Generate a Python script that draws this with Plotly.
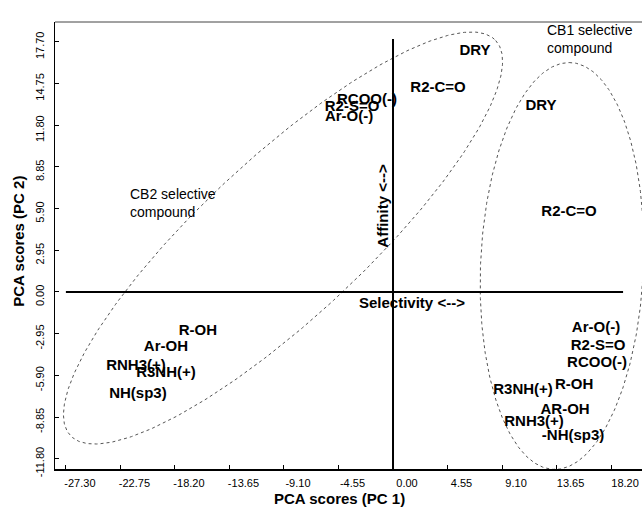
import numpy as np
import plotly.graph_objects as go

# ---- data (PCA scores) ----
cb2_labels = ["R-OH", "Ar-OH", "RNH3(+)", "R3NH(+)", "NH(sp3)",
              "DRY", "R2-C=O", "RCOO(-)", "R2-S=O", "Ar-O(-)"]
cb2_x = [-16.28, -18.95, -21.45, -18.95, -21.29, 6.84, 3.76, -2.17, -3.42, -3.67]
cb2_y = [-2.76, -3.89, -5.24, -5.73, -7.22, 17.06, 14.44, 13.59, 13.09, 12.38]

cb1_labels = ["R3NH(+)", "R-OH", "AR-OH", "RNH3(+)", "-NH(sp3)",
              "Ar-O(-)", "R2-S=O", "RCOO(-)", "DRY", "R2-C=O"]
cb1_x = [10.85, 15.11, 14.36, 11.77, 15.03, 16.94, 17.11, 17.03, 12.35, 14.69]
cb1_y = [-6.94, -6.58, -8.35, -9.20, -10.19, -2.55, -3.82, -5.02, 13.16, 5.66]

x_ticks = [-27.30, -22.75, -18.20, -13.65, -9.10, -4.55, 0.00, 4.55, 9.10, 13.65, 18.20]
y_ticks = [-11.80, -8.85, -5.90, -2.95, 0.00, 2.95, 5.90, 8.85, 11.80, 14.75, 17.70]

# ellipse definitions: centre, two conjugate half-axis vectors (data units)
cb2_ell = dict(c=(-9.18, 3.82), m=(17.75, 13.98), n=(4.55, -4.15))
cb1_ell = dict(c=(14.1, 1.84), m=(0.6, 14.4), n=(6.8, 0.0))

x_range = [-28.21, 20.78]
y_range = [-12.53, 19.11]

FONT = "Liberation Sans, Arial, Helvetica, sans-serif"

def ellipse(e, n=400):
    t = np.linspace(0, 2 * np.pi, n)
    cx, cy = e["c"]
    mx, my = e["m"]
    nx, ny = e["n"]
    return cx + mx * np.cos(t) + nx * np.sin(t), cy + my * np.cos(t) + ny * np.sin(t)

fig = go.Figure()

for e in (cb2_ell, cb1_ell):
    ex, ey = ellipse(e)
    fig.add_trace(go.Scatter(x=ex, y=ey, mode="lines", hoverinfo="skip",
                             line=dict(color="#555555", width=1, dash="dot")))

# reference axes
fig.add_trace(go.Scatter(x=[x_ticks[0], 19.2], y=[0, 0], mode="lines",
                         line=dict(color="black", width=2), hoverinfo="skip"))
fig.add_trace(go.Scatter(x=[0, 0], y=[y_range[0], 17.9], mode="lines",
                         line=dict(color="black", width=2), hoverinfo="skip"))

for lab, xs, ys in ((cb2_labels, cb2_x, cb2_y), (cb1_labels, cb1_x, cb1_y)):
    fig.add_trace(go.Scatter(x=xs, y=ys, text=lab, mode="text",
                             textposition="middle center",
                             textfont=dict(family=FONT, size=15, color="black", weight="bold")))

fig.add_annotation(x=-22.1, y=6.3, xref="x", yref="y", xanchor="left",
                   text="CB2 selective<br>compound", showarrow=False, align="left",
                   font=dict(family=FONT, size=14, color="black"))
fig.add_annotation(x=12.7, y=17.9, xref="x", yref="y", xanchor="left",
                   text="CB1 selective<br>compound", showarrow=False, align="left",
                   font=dict(family=FONT, size=14, color="black"))
fig.add_annotation(x=-0.85, y=6.1, xref="x", yref="y", textangle=-90,
                   xanchor="center", yanchor="middle",
                   text="<b>Affinity <--></b>", showarrow=False,
                   font=dict(family=FONT, size=15, color="black"))
fig.add_annotation(x=1.6, y=-0.75, xref="x", yref="y",
                   text="<b>Selectivity <--></b>", showarrow=False,
                   font=dict(family=FONT, size=15, color="black"))

# axis titles
fig.add_annotation(x=-4.5, y=-0.065, xref="x", yref="paper", yanchor="middle",
                   xanchor="center",
                   text="<b>PCA scores (PC 1)</b>", showarrow=False,
                   font=dict(family=FONT, size=15, color="black"))
fig.add_annotation(x=-0.062, y=3.6, xref="paper", yref="y", textangle=-90,
                   xanchor="center", yanchor="middle",
                   text="<b>PCA scores (PC 2)</b>", showarrow=False,
                   font=dict(family=FONT, size=15, color="black"))

fig.update_layout(
    width=642, height=510,
    margin=dict(l=55, r=0, t=22, b=41),
    paper_bgcolor="white", plot_bgcolor="white",
    showlegend=False,
    xaxis=dict(range=x_range, tickvals=x_ticks, ticktext=[f"{v:.2f}" for v in x_ticks],
               showgrid=False, zeroline=False, showline=True, linecolor="black", linewidth=1.5,
               ticks="inside", ticklen=4, tickcolor="black", mirror=False,
               tickfont=dict(family=FONT, size=11, color="black"),
               ticklabelshift=14, ticklabelstandoff=3),
    yaxis=dict(range=y_range, tickvals=y_ticks, ticktext=[f"{v:.2f}" for v in y_ticks],
               showgrid=False, zeroline=False, showline=True, linecolor="black", linewidth=1,
               ticks="inside", ticklen=4, tickcolor="black", tickangle=-90,
               tickfont=dict(family=FONT, size=11, color="black"),
               ticklabelshift=5, ticklabelstandoff=6),
)
# top frame line
fig.add_shape(type="line", xref="paper", yref="paper", x0=0, x1=1, y0=1, y1=1,
              line=dict(color="#444444", width=1))

fig.write_html("out.html")
